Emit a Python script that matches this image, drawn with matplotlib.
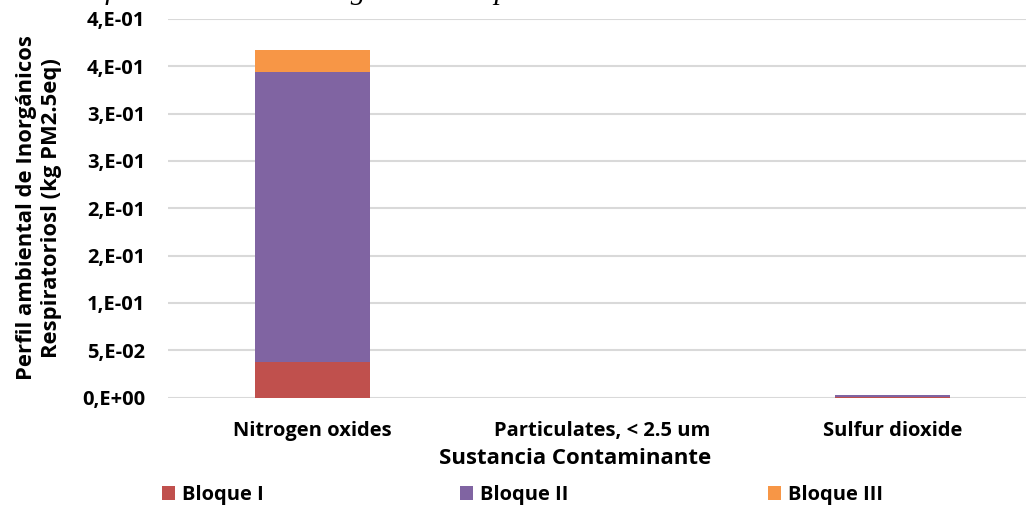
import matplotlib
matplotlib.use("Agg")
import matplotlib.pyplot as plt
from matplotlib.patches import Patch
from matplotlib.ticker import FixedLocator, FixedFormatter

categories = ["Nitrogen oxides", "Particulates, < 2.5 um", "Sulfur dioxide"]
bloque_i = [0.0378, 0.0, 0.00003]
bloque_ii = [0.3059, 0.0, 0.0022]
bloque_iii = [0.0236, 0.0, 0.00001]
series_names = ["Bloque I", "Bloque II", "Bloque III"]
colors = ["#C0504D", "#8064A2", "#F79646"]
yticks = [0.0, 0.05, 0.10, 0.15, 0.20, 0.25, 0.30, 0.35, 0.40]
ytick_labels = ["0,E+00", "5,E-02", "1,E-01", "2,E-01", "2,E-01", "3,E-01", "3,E-01", "4,E-01", "4,E-01"]

W, H = 1026, 508
FONT = "Open Sans"
plt.rcParams["font.family"] = [FONT, "DejaVu Sans"]
fig = plt.figure(figsize=(W / 100, H / 100), dpi=100)

# axes in pixel coordinates (chart is cropped on the right)
left, right, top, bottom = 167.5, 1037.5, 19.0, 397.5
ax = fig.add_axes([left / W, (H - bottom) / H, (right - left) / W, (bottom - top) / H])

x = list(range(len(categories)))
bw = 0.397
b2 = list(bloque_i)
b3 = [a + b for a, b in zip(bloque_i, bloque_ii)]
ax.bar(x, bloque_i, bw, color=colors[0], zorder=3, linewidth=0)
ax.bar(x, bloque_ii, bw, bottom=b2, color=colors[1], zorder=3, linewidth=0)
ax.bar(x, bloque_iii, bw, bottom=b3, color=colors[2], zorder=3, linewidth=0)

ax.set_xlim(-0.5, 2.5)
ax.set_ylim(0, 0.4)
ax.yaxis.set_major_locator(FixedLocator(yticks))
ax.yaxis.set_major_formatter(FixedFormatter(ytick_labels))
ax.set_xticks(x)
ax.set_xticklabels(categories)
ax.grid(axis="y", color="#D9D9D9", linewidth=1.5, zorder=0)
ax.set_axisbelow(True)
for s in ax.spines.values():
    s.set_visible(False)
ax.tick_params(axis="both", length=0)
ax.tick_params(axis="y", pad=16)
ax.tick_params(axis="x", pad=17)
for lab in ax.get_yticklabels() + ax.get_xticklabels():
    lab.set_fontweight("bold")
    lab.set_fontsize(14.5)
    lab.set_color("#000000")

fig.text(39 / W, 1 - 208 / H, "Perfil ambiental de Inorgánicos\nRespiratoriosl (kg PM2.5eq)",
         rotation=90, ha="center", va="center", multialignment="center",
         fontsize=15.8, fontweight="bold", linespacing=1.25)
fig.text(575 / W, 1 - 459 / H, "Sustancia Contaminante", ha="center", va="center",
         fontsize=16, fontweight="bold")

# cropped italic title at the very top
fig.text(62 / W, 1 + 1 / H, "Perfil ambiental de Inorgánicos Respiratorios",
         ha="left", va="baseline", fontsize=21.5, style="italic",
         family=["Liberation Serif", "DejaVu Serif"])

# legend entries with fixed column positions
leg_x = [162, 460, 768]
for name, col, lx in zip(series_names, colors, leg_x):
    fig.legend(handles=[Patch(facecolor=col, edgecolor="none", label=name)],
               loc="center left", bbox_to_anchor=(lx / W, 1 - 495 / H),
               frameon=False, handlelength=0.65, handleheight=0.65,
               handletextpad=0.35, borderaxespad=0, borderpad=0,
               prop={"family": FONT, "weight": "bold", "size": 14.5})

fig.savefig("out.png", dpi=100)
